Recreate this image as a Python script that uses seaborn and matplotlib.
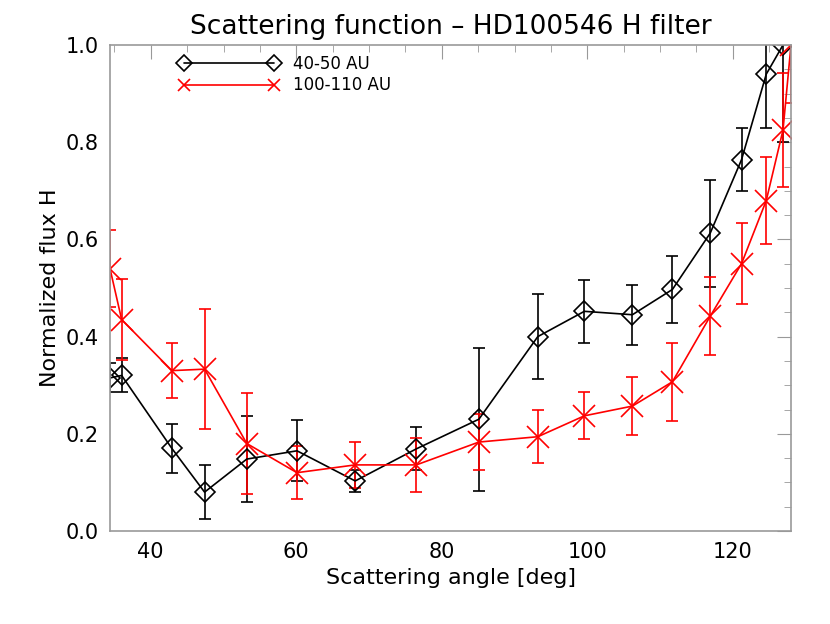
import numpy as np
import matplotlib
matplotlib.use("Agg")
import matplotlib.pyplot as plt
import seaborn as sns
from matplotlib.ticker import MultipleLocator

# scattering angle (deg)
angle = [34.4, 36.0, 42.9, 47.4, 53.2, 60.1, 68.1, 76.5, 85.1, 93.2,
         99.6, 106.2, 111.7, 116.9, 121.2, 124.6, 126.9, 128.0]

# 40-50 AU
flux_in = [0.315, 0.32, 0.17, 0.08, 0.148, 0.165, 0.103, 0.169, 0.23, 0.40,
           0.452, 0.445, 0.497, 0.613, 0.764, 0.94, 1.0]
err_in = [0.03, 0.035, 0.05, 0.055, 0.088, 0.063, 0.023, 0.044, 0.147, 0.088,
          0.065, 0.062, 0.068, 0.11, 0.065, 0.11, 0.2]

# 100-110 AU
flux_out = [0.54, 0.435, 0.33, 0.333, 0.18, 0.12, 0.136, 0.136, 0.183, 0.194,
            0.237, 0.257, 0.307, 0.442, 0.55, 0.68, 0.825, 1.0]
err_out = [0.08, 0.083, 0.057, 0.123, 0.103, 0.055, 0.047, 0.055, 0.058, 0.055,
           0.048, 0.059, 0.08, 0.08, 0.083, 0.09, 0.118, 0.12]

sns.set_style("white")
plt.rcParams["font.family"] = ["DejaVu Sans"]
plt.rcParams["text.color"] = "black"

fig = plt.figure(figsize=(8.3, 6.24), dpi=100)
ax = fig.add_axes([110 / 830, 1 - 531 / 624, 681 / 830, 486 / 624])

x_in = angle[:len(flux_in)]
ax.errorbar(x_in, flux_in, yerr=err_in, fmt="none", ecolor="black",
            elinewidth=1.2, capsize=4, capthick=1.2)
ax.errorbar(angle, flux_out, yerr=err_out, fmt="none", ecolor="red",
            elinewidth=1.2, capsize=4, capthick=1.2)

sns.lineplot(x=x_in, y=flux_in, ax=ax, color="black", marker="D", markersize=10,
             markerfacecolor="none", markeredgecolor="black", markeredgewidth=1.2,
             linewidth=1.2, sort=False, label="40-50 AU")
sns.lineplot(x=angle, y=flux_out, ax=ax, color="red", marker="x", markersize=16,
             markeredgecolor="red", markeredgewidth=1.2, linewidth=1.2,
             sort=False, label="100-110 AU")
for ln in ax.lines:
    ln.set_clip_on(True)

ax.set_xlim(34.4, 128.0)
ax.set_ylim(0.0, 1.0)
ax.xaxis.set_major_locator(MultipleLocator(20))
ax.xaxis.set_minor_locator(MultipleLocator(5))
ax.yaxis.set_major_locator(MultipleLocator(0.2))
ax.yaxis.set_minor_locator(MultipleLocator(0.05))
ax.yaxis.set_major_formatter(matplotlib.ticker.FormatStrFormatter("%.1f"))
ax.tick_params(which="both", direction="in", top=True, right=True,
               color="#999999", labelcolor="black", labelsize=15, pad=8)
ax.tick_params(which="major", length=10)
ax.tick_params(which="minor", length=5)
for s in ax.spines.values():
    s.set_color("#999999")
    s.set_linewidth(1.2)

ax.set_xlabel("Scattering angle [deg]", fontsize=16, color="black")
ax.set_ylabel("Normalized flux H", fontsize=16, color="black")
ax.set_title("Scattering function \u2013 HD100546 H filter", fontsize=19, pad=8,
             color="black")

leg = ax.legend(loc="upper left", numpoints=2, frameon=False, fontsize=12,
                handlelength=6, bbox_to_anchor=(0.08, 1.01), labelspacing=0.2)
for h in leg.legend_handles:
    h.set_markersize(8)

fig.savefig("out.png", dpi=100)
